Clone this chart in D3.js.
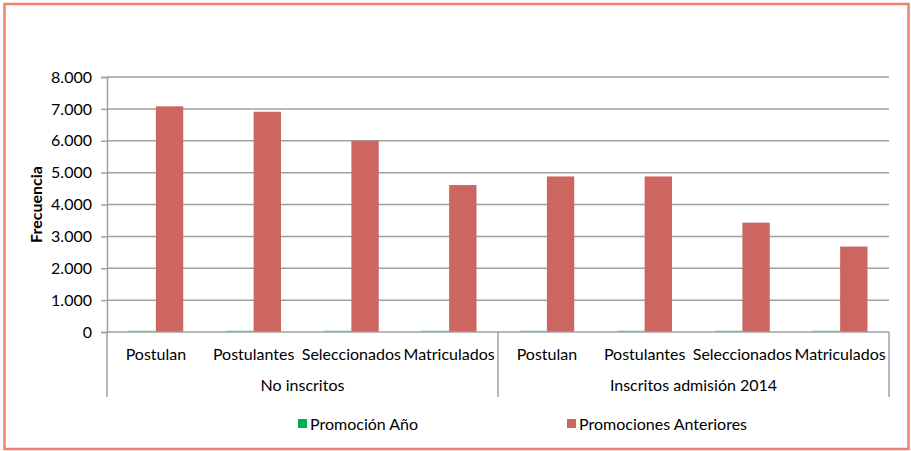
<!DOCTYPE html>
<html>
<head>
<meta charset="utf-8">
<script src="https://cdn.jsdelivr.net/npm/d3@7"></script>
<style>
  body { margin: 0; background: #fff; }
  text { font-family: Lato, "Open Sans", sans-serif; fill: #000; }
</style>
</head>
<body>
<script>
// DATA
const groups = ["No inscritos", "Inscritos admisión 2014"];
const categories = ["Postulan", "Postulantes", "Seleccionados", "Matriculados"];
const seriesNames = ["Promoción Año", "Promociones Anteriores"];
const promoAnio = [45, 45, 45, 45, 45, 45, 45, 45];
const promoAnteriores = [7080, 6910, 6000, 4610, 4880, 4880, 3430, 2680];
const yTicks = [0, 1000, 2000, 3000, 4000, 5000, 6000, 7000, 8000];
const colors = ["#00B050", "#CD6660"];

// build rows
const rows = [];
groups.forEach((g, gi) => {
  categories.forEach((c, ci) => {
    const i = gi * categories.length + ci;
    rows.push({key: i, group: g, cat: c, values: [promoAnio[i], promoAnteriores[i]]});
  });
});

const svg = d3.select("body").append("svg")
  .attr("width", 911).attr("height", 451);

// outer frame
svg.append("rect")
  .attr("x", 4.5).attr("y", 4).attr("width", 904).attr("height", 445)
  .attr("fill", "#fff").attr("stroke", "#F4806B").attr("stroke-width", 2.5);

const margin = {top: 77, left: 107, right: 22, bottom: 119};
const width = 911 - margin.left - margin.right;
const height = 451 - margin.top - margin.bottom;

const g = svg.append("g")
  .attr("transform", "translate(" + margin.left + "," + margin.top + ")");

const x = d3.scaleBand()
  .domain(rows.map(d => d.key))
  .range([0, width])
  .paddingInner(0.44).paddingOuter(0.22);

const xSub = d3.scaleBand()
  .domain([0, 1])
  .range([0, x.bandwidth()]);

const y = d3.scaleLinear()
  .domain([0, 8000])
  .range([height, 0]);

// gridlines
g.append("g").selectAll("line").data(yTicks.slice(1))
  .enter().append("line")
  .attr("x1", 0).attr("x2", width)
  .attr("y1", d => y(d)).attr("y2", d => y(d))
  .attr("stroke", "#A0A0A0").attr("stroke-width", 1.5);

// y axis
const yAxis = g.append("g")
  .call(d3.axisLeft(y).tickValues(yTicks).tickSize(6).tickPadding(9)
    .tickFormat(d => d3.format(",")(d).replace(/,/g, ".")));
yAxis.select(".domain").attr("stroke", "#A0A0A0").attr("stroke-width", 1.5);
yAxis.selectAll(".tick line").attr("stroke", "#A0A0A0").attr("stroke-width", 1.5);
yAxis.selectAll("text").attr("font-size", 16).style("font-family", "Lato, sans-serif");

// y title
svg.append("text")
  .attr("transform", "translate(42," + (margin.top + height / 2) + ") rotate(-90)")
  .attr("text-anchor", "middle")
  .attr("font-size", 16).attr("font-weight", "bold")
  .text("Frecuencia");

// bars
const barG = g.selectAll(".cat").data(rows)
  .enter().append("g")
  .attr("transform", d => "translate(" + x(d.key) + ",0)");

barG.selectAll("rect").data(d => d.values)
  .enter().append("rect")
  .attr("x", (d, i) => xSub(i))
  .attr("y", d => y(d))
  .attr("width", xSub.bandwidth())
  .attr("height", d => height - y(d))
  .attr("fill", (d, i) => i === 0 ? "#7FD9A8" : colors[1]);

// category axis
g.append("line")
  .attr("x1", 0).attr("x2", width).attr("y1", height).attr("y2", height)
  .attr("stroke", "#A0A0A0").attr("stroke-width", 1.5);

const step = width / rows.length;
[0, categories.length, rows.length].forEach(i => {
  g.append("line")
    .attr("x1", i * step).attr("x2", i * step)
    .attr("y1", height).attr("y2", height + 65)
    .attr("stroke", "#A0A0A0").attr("stroke-width", 1.5);
});

g.selectAll(".catlabel").data(rows)
  .enter().append("text")
  .attr("x", d => x(d.key) + x.bandwidth() / 2)
  .attr("y", height + 28)
  .attr("text-anchor", "middle")
  .attr("font-size", 16)
  .text(d => d.cat);

g.selectAll(".grplabel").data(groups)
  .enter().append("text")
  .attr("x", (d, i) => (i + 0.5) * categories.length * step)
  .attr("y", height + 59)
  .attr("text-anchor", "middle")
  .attr("font-size", 16)
  .text(d => d);

// legend
const legendX = [298, 567];
const legend = svg.selectAll(".legend").data(seriesNames)
  .enter().append("g")
  .attr("transform", (d, i) => "translate(" + legendX[i] + ",418)");
legend.append("rect")
  .attr("width", 9).attr("height", 9).attr("y", 1)
  .attr("fill", (d, i) => colors[i]);
legend.append("text")
  .attr("x", 12).attr("y", 11.5)
  .attr("font-size", 16)
  .text(d => d);
</script>
</body>
</html>
